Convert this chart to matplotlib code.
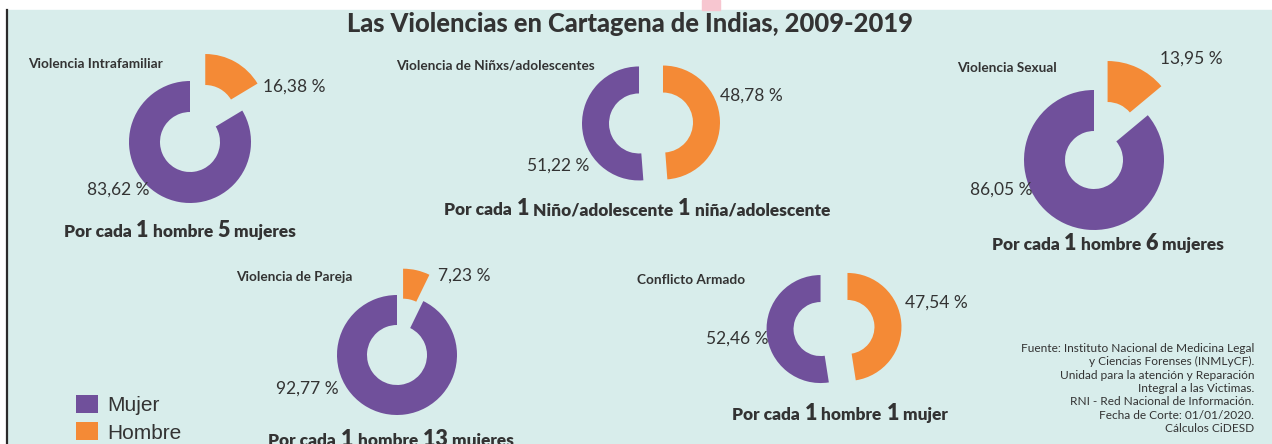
import matplotlib
matplotlib.use("Agg")
import matplotlib.pyplot as plt
from matplotlib.patches import Rectangle

plt.rcParams['font.family'] = ['Lato', 'DejaVu Sans']

W, H = 1272, 444

title = "Las Violencias en Cartagena de Indias, 2009-2019"
series = ["Mujer", "Hombre"]
categories = ["Violencia Intrafamiliar", "Violencia de Niñxs/adolescentes",
              "Violencia Sexual", "Violencia de Pareja", "Conflicto Armado"]
mujer = [83.62, 51.22, 86.05, 92.77, 52.46]
hombre = [16.38, 48.78, 13.95, 7.23, 47.54]
# segments alternate normal / big digits
ratio_text = ["Por cada| 1| hombre| 5| mujeres",
              "Por cada| 1| Niño/adolescente| 1| niña/adolescente",
              "Por cada| 1| hombre| 6| mujeres",
              "Por cada| 1| hombre| 13| mujeres",
              "Por cada| 1| hombre| 1| mujer"]
source = ["Fuente: Instituto Nacional de Medicina Legal",
          "y Ciencias Forenses (INMLyCF).",
          "Unidad para la atención y Reparación",
          "Integral a las Victimas.",
          "RNI - Red Nacional de Información.",
          "Fecha de Corte: 01/01/2020.",
          "Cálculos CiDESD"]

COL_M = "#70509b"
COL_H = "#f48a36"
BG = "#d8edeb"
TXT = "#333333"

# layout (pixels, from top-left); explode is an offset in pixels here
centers = [(190, 142), (651, 123), (1094, 160), (397, 355), (834, 328)]
radii = [61, 57, 70, 60, 54]
ring = [31, 27, 41, 30, 27]
explode_h = [31, 12, 32, 27, 13.5]
explode_m = [0, 12, 0, 0, 13.5]
cat_pos = [(28, 68), (396, 69), (957, 72), (236, 281), (637, 284)]
lab_h_pos = [(263, 92), (720, 101), (1160, 64), (438, 281), (905, 308)]
lab_m_pos = [(87, 195), (527, 171), (970, 195), (276, 394), (706, 344)]
ratio_pos = [(180, 237), (637, 215), (1108, 250), (391, 446), (840, 420)]

fig = plt.figure(figsize=(W / 100, H / 100), dpi=100, facecolor='white')
ax = fig.add_axes([0, 0, 1, 1])

# background panel, white strip on top and dark left border
ax.add_patch(Rectangle((8, 0), W - 8, H - 10, color=BG, zorder=0))
ax.add_patch(Rectangle((702, H - 10), 18, 10, color='#f7c6d0', zorder=0))
ax.plot([7, 7], [0, H - 10], color='#2b2b2b', lw=1.6, zorder=1)


def fmt(v):
    return f"{v:.2f}".replace('.', ',') + " %"


first = None
for i in range(len(categories)):
    cx, cy = centers[i]
    wedges, _ = ax.pie([hombre[i], mujer[i]], colors=[COL_H, COL_M],
                       startangle=90, counterclock=False,
                       radius=radii[i], center=(cx, H - cy),
                       explode=[explode_h[i], explode_m[i]],
                       wedgeprops=dict(width=ring[i], linewidth=0),
                       frame=True)
    if first is None:
        first = wedges
    ax.text(cat_pos[i][0], H - cat_pos[i][1], categories[i], fontsize=9.8,
            fontweight='bold', color=TXT, va='baseline')
    ax.text(lab_h_pos[i][0], H - lab_h_pos[i][1], fmt(hombre[i]), fontsize=12.5,
            color=TXT, va='baseline')
    ax.text(lab_m_pos[i][0], H - lab_m_pos[i][1], fmt(mujer[i]), fontsize=12.5,
            color=TXT, va='baseline')

# "Por cada ..." lines with larger digits
renderer = fig.canvas.get_renderer()
for i, txt in enumerate(ratio_text):
    parts = txt.split("|")
    objs = [ax.text(0, 0, p, fontsize=15.5 if k % 2 else 12.4, fontweight='heavy',
                    color=TXT, va='baseline', ha='left')
            for k, p in enumerate(parts)]
    ws = [t.get_window_extent(renderer).width for t in objs]
    x0 = ratio_pos[i][0] - sum(ws) / 2
    for t, w in zip(objs, ws):
        t.set_position((x0, H - ratio_pos[i][1]))
        x0 += w

ax.text(630, H - 32, title, fontsize=18.4, fontweight='black', color=TXT,
        ha='center', va='baseline')

for k, line in enumerate(source):
    ax.text(1254, H - (352 + k * 13.35), line, fontsize=8.6, color=TXT,
            ha='right', va='baseline')

ax.legend(handles=[first[1], first[0]], labels=series, loc='upper left',
          bbox_to_anchor=(76 / W, (H - 395) / H), frameon=False,
          prop={'family': 'Liberation Sans', 'size': 15},
          handlelength=1.05, handleheight=0.95, handletextpad=0.45,
          labelspacing=0.35, borderpad=0, borderaxespad=0,
          labelcolor=TXT)

ax.set_xlim(0, W)
ax.set_ylim(0, H)
ax.set_aspect('auto')
ax.axis('off')

fig.savefig("out.png", dpi=100, facecolor='white')
